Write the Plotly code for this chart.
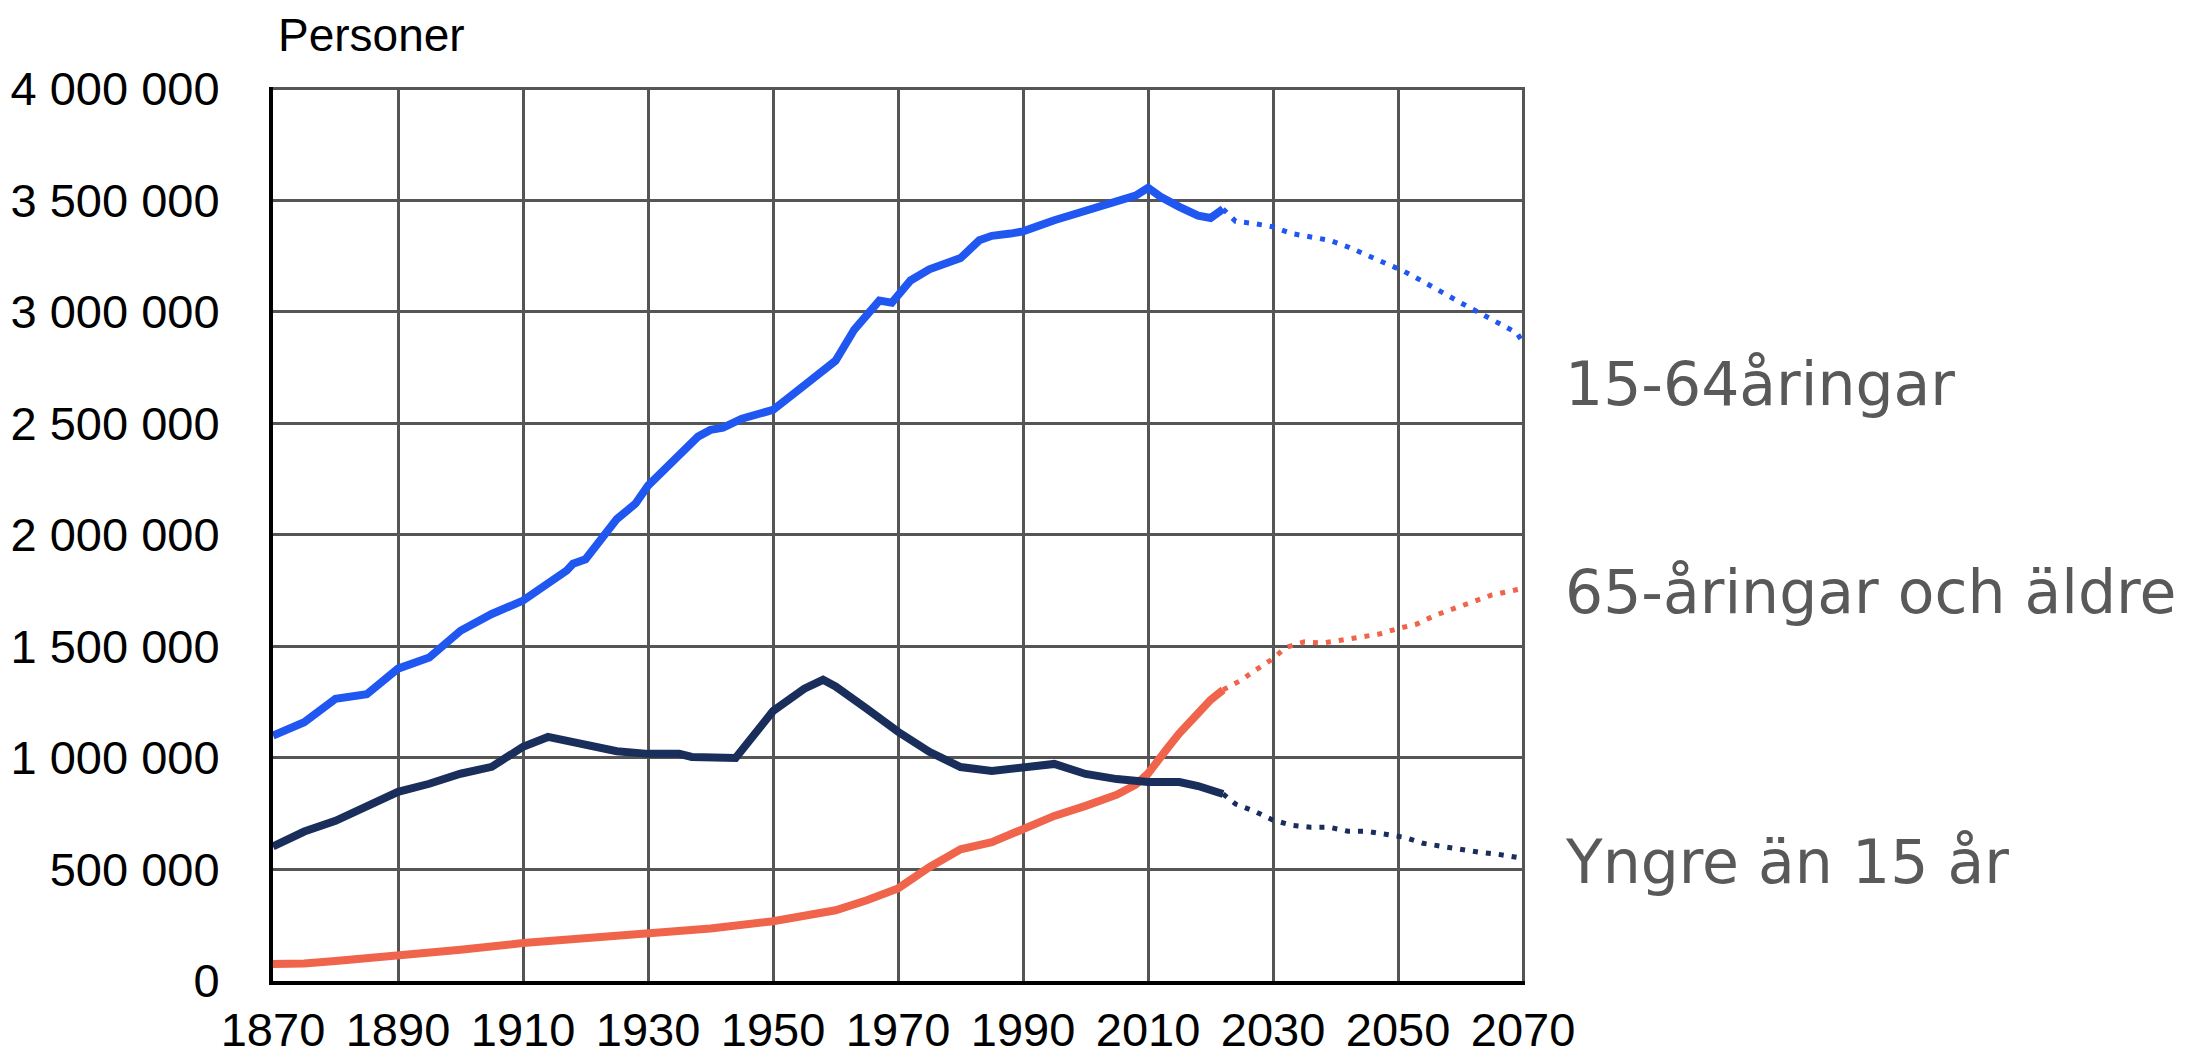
import plotly.graph_objects as go

# 15-64 year olds, recorded
years_mid = [1870, 1875, 1880, 1885, 1890, 1895, 1900, 1905, 1910, 1913, 1917, 1918, 1920,
             1925, 1928, 1930, 1935, 1938, 1940, 1942, 1945, 1950, 1955, 1958, 1960, 1963,
             1965, 1967, 1969, 1972, 1975, 1980, 1983, 1985, 1988, 1990, 1995, 2000, 2005,
             2008, 2010, 2012, 2015, 2018, 2020, 2022]
mid_pop = [1100000, 1160000, 1265000, 1285000, 1400000, 1450000, 1570000, 1645000, 1705000,
           1760000, 1840000, 1870000, 1890000, 2070000, 2140000, 2220000, 2350000, 2440000,
           2470000, 2480000, 2520000, 2560000, 2670000, 2740000, 2780000, 2920000, 2980000,
           3050000, 3040000, 3140000, 3190000, 3240000, 3320000, 3340000, 3350000, 3360000,
           3410000, 3450000, 3490000, 3520000, 3555000, 3515000, 3470000, 3430000, 3420000,
           3460000]

# 15-64 projection
years_mid_proj = [2022, 2024, 2027, 2030, 2033, 2036, 2039, 2042, 2045, 2048, 2051, 2054,
                  2057, 2060, 2063, 2066, 2069, 2070]
mid_proj = [3460000, 3405000, 3395000, 3380000, 3350000, 3335000, 3320000, 3290000, 3255000,
            3220000, 3180000, 3135000, 3085000, 3040000, 2995000, 2950000, 2905000, 2860000]

# 65 and older, recorded
years_old = [1870, 1875, 1880, 1890, 1900, 1910, 1920, 1930, 1940, 1950, 1955, 1960, 1965,
             1970, 1975, 1978, 1980, 1985, 1990, 1995, 2000, 2005, 2008, 2010, 2013, 2015,
             2018, 2020, 2022]
old_pop = [76000, 78000, 90000, 112000, 140000, 170000, 190000, 214000, 235000, 268000,
           290000, 317000, 362000, 415000, 510000, 560000, 590000, 622000, 682000, 740000,
           785000, 835000, 880000, 930000, 1040000, 1110000, 1200000, 1260000, 1305000]

# 65 and older, projection
years_old_proj = [2022, 2025, 2027, 2030, 2032, 2035, 2038, 2041, 2044, 2047, 2050, 2053,
                  2056, 2059, 2062, 2065, 2070]
old_proj = [1305000, 1350000, 1390000, 1445000, 1495000, 1520000, 1515000, 1530000, 1540000,
            1555000, 1580000, 1600000, 1640000, 1670000, 1700000, 1730000, 1760000]

# under 15, recorded
years_young = [1870, 1875, 1880, 1885, 1890, 1895, 1900, 1905, 1910, 1914, 1917, 1920, 1925,
               1930, 1935, 1937, 1940, 1944, 1950, 1955, 1958, 1960, 1965, 1970, 1975, 1980,
               1985, 1990, 1995, 2000, 2005, 2010, 2015, 2018, 2022]
young_pop = [603000, 670000, 718000, 786000, 848000, 884000, 929000, 960000, 1050000,
             1094000, 1076000, 1054000, 1030000, 1018000, 1018000, 1004000, 1000000, 1000000,
             1210000, 1310000, 1350000, 1320000, 1220000, 1117000, 1027000, 959000, 941000,
             959000, 973000, 928000, 905000, 892000, 892000, 874000, 838000]

# under 15, projection
years_young_proj = [2022, 2024, 2027, 2030, 2033, 2036, 2039, 2042, 2045, 2048, 2051, 2054,
                    2057, 2060, 2063, 2066, 2070]
young_proj = [838000, 793000, 761000, 721000, 698000, 689000, 689000, 671000, 671000, 658000,
              644000, 617000, 604000, 586000, 577000, 568000, 550000]

labels = ["15-64åringar", "65-åringar och äldre", "Yngre än 15 år"]
label_y = [2677000, 1743000, 533000]

BLUE = "#1f57f0"
ORANGE = "#f0644c"
NAVY = "#1a2e5c"

fig = go.Figure()
series = [
    (years_mid, mid_pop, years_mid_proj, mid_proj, BLUE),
    (years_old, old_pop, years_old_proj, old_proj, ORANGE),
    (years_young, young_pop, years_young_proj, young_proj, NAVY),
]
for xs, ys, xp, yp, col in series:
    fig.add_trace(go.Scatter(x=xs, y=ys, mode="lines",
                             line=dict(color=col, width=8), showlegend=False))
    fig.add_trace(go.Scatter(x=xp, y=yp, mode="lines",
                             line=dict(color=col, width=5, dash="5px,8px"), showlegend=False))

for txt, yv in zip(labels, label_y):
    fig.add_annotation(x=1.03, xref="paper", y=yv, yref="y", text=txt, showarrow=False,
                       xanchor="left", yanchor="middle",
                       font=dict(family="DejaVu Sans", size=60, color="#595959"))

fig.add_annotation(x=0.002, xref="paper", y=1.058, yref="paper", text="Personer",
                   showarrow=False, xanchor="left", yanchor="middle",
                   font=dict(family="Liberation Sans, Arial", size=46, color="#000"))

fig.update_layout(
    width=2198, height=1057,
    margin=dict(l=273, r=673, t=87, b=76),
    paper_bgcolor="white", plot_bgcolor="white",
    separators=", ",
    font=dict(family="Liberation Sans, Arial", size=47, color="#000"),
)
fig.update_xaxes(range=[1870, 2070.3], tick0=1870, dtick=20, showgrid=True,
                 gridcolor="#555555", gridwidth=3, showline=True, linecolor="#000",
                 linewidth=4, zeroline=False, ticks="", ticklabelstandoff=5,
                 automargin=False, tickfont=dict(size=47))
fig.update_yaxes(range=[0, 4007000], dtick=500000, tickformat=",.0f", showgrid=True,
                 gridcolor="#555555", gridwidth=3, showline=True, linecolor="#000",
                 linewidth=4, zeroline=False, ticks="", ticklabelstandoff=40,
                 automargin=False)

fig.write_html("out.html", config={"displayModeBar": False},
               post_script="document.body.style.margin='0';")
